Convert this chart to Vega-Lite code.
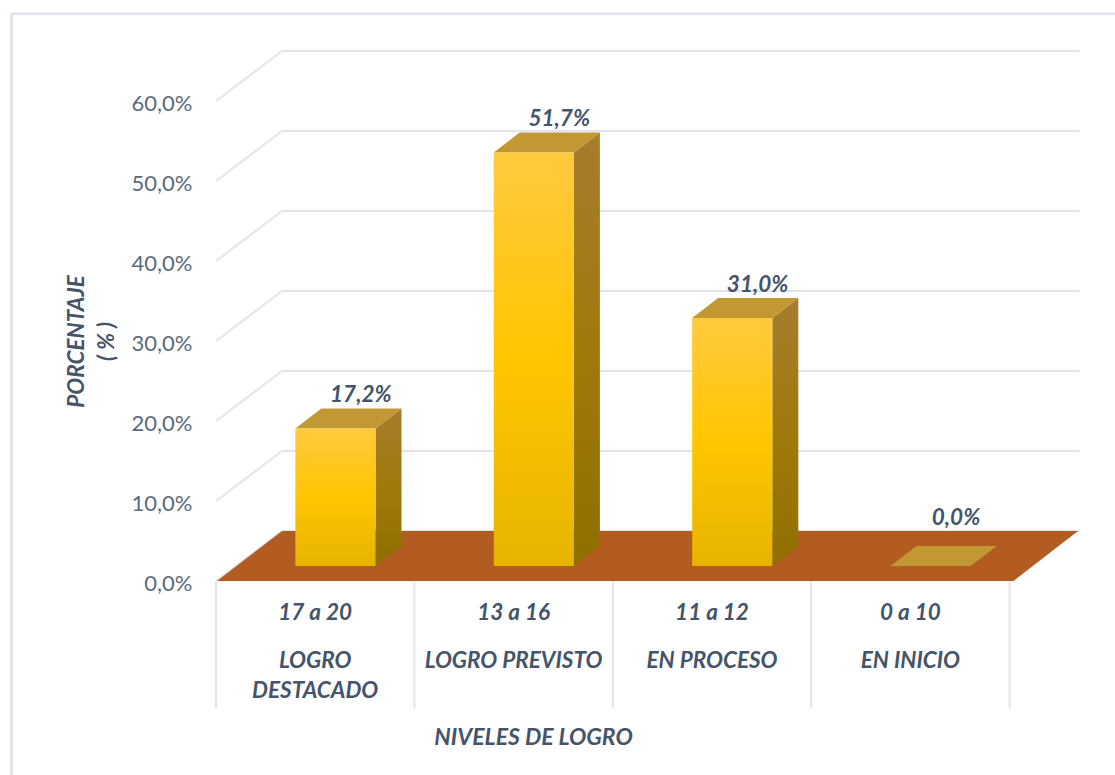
{"$schema":"https://vega.github.io/schema/vega-lite/v6.json","width":867,"height":657,"autosize":"none","padding":{"left":216,"top":51,"right":32,"bottom":67},"background":"white","config":{"view":{"stroke":null},"font":"Lato"},"resolve":{"axis":{"x":"independent","y":"independent"}},"datasets":{"niveles":[{"nivel":"17 a 20","grupo":"LOGRO\nDESTACADO","valor":17.2,"orden":0},{"nivel":"13 a 16","grupo":"LOGRO PREVISTO","valor":51.7,"orden":1},{"nivel":"11 a 12","grupo":"EN PROCESO","valor":31.0,"orden":2},{"nivel":"0 a 10","grupo":"EN INICIO","valor":0,"orden":3}],"marcas":[{"v":0},{"v":10},{"v":20},{"v":30},{"v":40},{"v":50},{"v":60}],"separadores":[{"s":0},{"s":1},{"s":2},{"s":3},{"s":4}],"suelo":[{"h":0,"xa":0.005,"xb":4.02},{"h":6.25,"xa":0.333,"xb":4.345}]},"layer":[{"data":{"name":"marcas"},"transform":[{"calculate":"datum.v+6.25","as":"vb"},{"calculate":"0.333","as":"xb"},{"calculate":"4.354","as":"xe"}],"mark":{"type":"rule","color":"#e1e5eb","strokeWidth":2},"encoding":{"x":{"field":"xb","type":"quantitative","scale":{"domain":[0,4.37]},"axis":{"title":"NIVELES DE LOGRO","titleFont":"Lato","titleFontSize":23,"titleFontStyle":"italic","titleFontWeight":"bold","titleColor":"#44546a","titleX":317,"titleY":29,"titleBaseline":"middle","labels":false,"ticks":false,"domain":false,"grid":false}},"x2":{"field":"xe"},"y":{"field":"vb","type":"quantitative","scale":{"domain":[-15.875,66.25]},"axis":{"values":[0,10,20,30,40,50,60],"labelExpr":"replace(format(datum.value,'.1f'),'.',',')+'%'","labelFont":"Lato","labelFontSize":22,"labelColor":"#5b6a7d","labelPadding":24,"labelOffset":2,"domain":false,"ticks":false,"grid":false,"title":["PORCENTAJE","( % )"],"titleFont":"Lato","titleFontSize":22.5,"titleFontStyle":"italic","titleFontWeight":"bold","titleColor":"#44546a","titleX":-128,"titleY":290,"titleLineHeight":30,"titleAngle":-90}},"y2":{"field":"vb"}}},{"data":{"name":"marcas"},"transform":[{"calculate":"datum.v+6.25","as":"vb"},{"calculate":"0.333","as":"xb"},{"calculate":"0","as":"xa"}],"mark":{"type":"rule","color":"#e1e5eb","strokeWidth":2},"encoding":{"x":{"field":"xa","type":"quantitative","scale":{"domain":[0,4.37]},"axis":null},"x2":{"field":"xb"},"y":{"field":"v","type":"quantitative","scale":{"domain":[-15.875,66.25]},"axis":null},"y2":{"field":"vb"}}},{"data":{"name":"separadores"},"transform":[{"calculate":"0","as":"ya"},{"calculate":"-15.875","as":"yb"}],"mark":{"type":"rule","color":"#e1e5eb","strokeWidth":2},"encoding":{"x":{"field":"s","type":"quantitative","scale":{"domain":[0,4.37]},"axis":null},"y":{"field":"ya","type":"quantitative","scale":{"domain":[-15.875,66.25]},"axis":null},"y2":{"field":"yb"}}},{"data":{"name":"suelo"},"mark":{"type":"area","orient":"horizontal","color":"#b35c22"},"encoding":{"x":{"field":"xa","type":"quantitative","scale":{"domain":[0,4.37]},"axis":null},"x2":{"field":"xb"},"y":{"field":"h","type":"quantitative","scale":{"domain":[-15.875,66.25]},"axis":null}}},{"data":{"name":"niveles"},"transform":[{"calculate":"[0,1]","as":"t"},{"flatten":["t"]},{"calculate":"datum.orden+0.804+datum.t*0.131","as":"xs"},{"calculate":"1.875+datum.t*2.5","as":"base"},{"calculate":"datum.base+datum.valor","as":"cima"}],"mark":{"type":"area","orient":"vertical","fill":{"gradient":"linear","x1":0,"y1":0,"x2":0,"y2":1,"stops":[{"offset":0,"color":"#a67d2e"},{"offset":0.5,"color":"#a07a0c"},{"offset":1,"color":"#8f6f00"}]}},"encoding":{"x":{"field":"xs","type":"quantitative","scale":{"domain":[0,4.37]},"axis":null},"y":{"field":"cima","type":"quantitative","scale":{"domain":[-15.875,66.25]},"axis":null},"y2":{"field":"base"},"detail":{"field":"orden"}}},{"data":{"name":"niveles"},"transform":[{"calculate":"[0,1]","as":"t"},{"flatten":["t"]},{"calculate":"datum.orden+0.4+datum.t*0.131","as":"xi"},{"calculate":"datum.orden+0.804+datum.t*0.131","as":"xd"},{"calculate":"datum.valor+1.875+datum.t*2.5","as":"cima"}],"mark":{"type":"area","orient":"horizontal","color":"#c29833"},"encoding":{"x":{"field":"xi","type":"quantitative","scale":{"domain":[0,4.37]},"axis":null},"x2":{"field":"xd"},"y":{"field":"cima","type":"quantitative","scale":{"domain":[-15.875,66.25]},"axis":null},"detail":{"field":"orden"}}},{"data":{"name":"niveles"},"transform":[{"calculate":"datum.orden+0.4","as":"xi"},{"calculate":"datum.orden+0.804","as":"xd"},{"calculate":"1.875","as":"base"},{"calculate":"datum.valor+1.875","as":"cima"}],"mark":{"type":"rect","fill":{"gradient":"linear","x1":0,"y1":0,"x2":0,"y2":1,"stops":[{"offset":0,"color":"#ffc93f"},{"offset":0.5,"color":"#ffc600"},{"offset":1,"color":"#e6b400"}]}},"encoding":{"x":{"field":"xi","type":"quantitative","scale":{"domain":[0,4.37]},"axis":null},"x2":{"field":"xd"},"y":{"field":"cima","type":"quantitative","scale":{"domain":[-15.875,66.25]},"axis":null},"y2":{"field":"base"}}},{"data":{"name":"niveles"},"transform":[{"calculate":"datum.orden+0.73","as":"xe"},{"calculate":"max(datum.valor,1.9)+4.375","as":"ye"},{"calculate":"replace(format(datum.valor,'.1f'),'.',',')+'%'","as":"etiqueta"}],"mark":{"type":"text","font":"Lato","fontSize":22.5,"fontStyle":"italic","fontWeight":"bold","color":"#44546a","baseline":"middle","dy":-13},"encoding":{"x":{"field":"xe","type":"quantitative","scale":{"domain":[0,4.37]},"axis":null},"y":{"field":"ye","type":"quantitative","scale":{"domain":[-15.875,66.25]},"axis":null},"text":{"field":"etiqueta"}}},{"data":{"name":"niveles"},"transform":[{"calculate":"datum.orden+0.5","as":"xc"},{"calculate":"-4","as":"yn"}],"mark":{"type":"text","font":"Lato","fontSize":22.5,"fontStyle":"italic","fontWeight":"bold","color":"#44546a","baseline":"middle"},"encoding":{"x":{"field":"xc","type":"quantitative","scale":{"domain":[0,4.37]},"axis":null},"y":{"field":"yn","type":"quantitative","scale":{"domain":[-15.875,66.25]},"axis":null},"text":{"field":"nivel"}}},{"data":{"name":"niveles"},"transform":[{"calculate":"datum.orden+0.5","as":"xc"},{"calculate":"-8.6","as":"yg"}],"mark":{"type":"text","font":"Lato","fontSize":22.5,"fontStyle":"italic","fontWeight":"bold","color":"#44546a","baseline":"top","lineBreak":"\n","lineHeight":30},"encoding":{"x":{"field":"xc","type":"quantitative","scale":{"domain":[0,4.37]},"axis":null},"y":{"field":"yg","type":"quantitative","scale":{"domain":[-15.875,66.25]},"axis":null},"text":{"field":"grupo"}}},{"data":{"values":[{"a":-1.03,"b":4.55,"c":70.9,"d":-24.3}]},"mark":{"type":"rule","color":"#e1e5eb","strokeWidth":3},"encoding":{"x":{"field":"a","type":"quantitative","scale":{"domain":[0,4.37]},"axis":null},"y":{"field":"c","type":"quantitative","scale":{"domain":[-15.875,66.25]},"axis":null},"y2":{"field":"d"}}},{"data":{"values":[{"a":-1.03,"b":4.55,"c":70.9}]},"mark":{"type":"rule","color":"#e1e5eb","strokeWidth":3},"encoding":{"x":{"field":"a","type":"quantitative","scale":{"domain":[0,4.37]},"axis":null},"x2":{"field":"b"},"y":{"field":"c","type":"quantitative","scale":{"domain":[-15.875,66.25]},"axis":null}}}]}
